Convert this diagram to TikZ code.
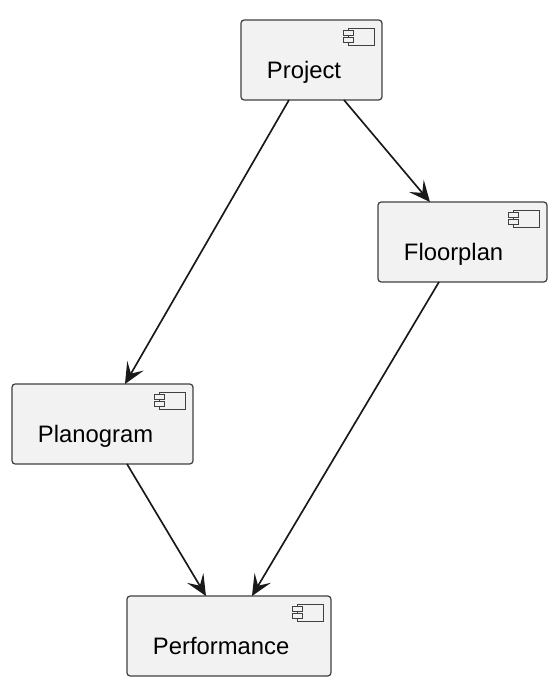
\documentclass[tikz,border=0pt]{standalone}
\usepackage{fontspec}
\setmainfont{Liberation Sans}
\usetikzlibrary{arrows.meta}

\tikzset{
	compbox/.style={draw=black!75, fill=black!5, rounded corners=1.8pt, line width=0.7pt, anchor=north west,
		inner xsep=0.52cm, inner ysep=0pt, outer sep=0pt, text width=#1, align=left,
		text height=1.18cm, text depth=0.42cm, font=\fontsize{13.55}{16}\selectfont},
	compline/.style={draw=black!75, line width=0.45pt},
	link/.style={black!90, line width=0.95pt, -{Stealth[length=0.42cm,width=0.38cm,inset=0.18cm]}}
}

\begin{document}
\begin{tikzpicture}[x=0.02cm,y=0.02cm]
	\useasboundingbox (0,0) rectangle (560,-687);
	\node [compbox=1.78cm] (project) at (241,-20) {Project};
	\node [compbox=2.34cm] (floorplan) at (378,-202) {Floorplan};
	\node [compbox=2.58cm] (planogram) at (12,-384) {Planogram};
	\node [compbox=3.04cm] (performance) at (127,-596) {Performance};
	% component icons
	\foreach \name in {project,floorplan,planogram,performance} {
		\begin{scope}[shift={(\name.north east)}]
			\draw [compline] (-34,-8) rectangle (-8,-25);
			\draw [compline, fill=black!5] (-39,-10.5) rectangle (-29,-15.5);
			\draw [compline, fill=black!5] (-39,-17) rectangle (-29,-22);
		\end{scope}
	}
	\draw [link] ([xshift=-0.45cm]project.south) -- ([xshift=0.45cm]planogram.north);
	\draw [link] ([xshift=0.65cm]project.south) -- ([xshift=-0.65cm]floorplan.north);
	\draw [link] ([xshift=-0.47cm]floorplan.south) -- ([xshift=0.46cm]performance.north);
	\draw [link] ([xshift=0.49cm]planogram.south) -- ([xshift=-0.46cm]performance.north);
\end{tikzpicture}
\end{document}
